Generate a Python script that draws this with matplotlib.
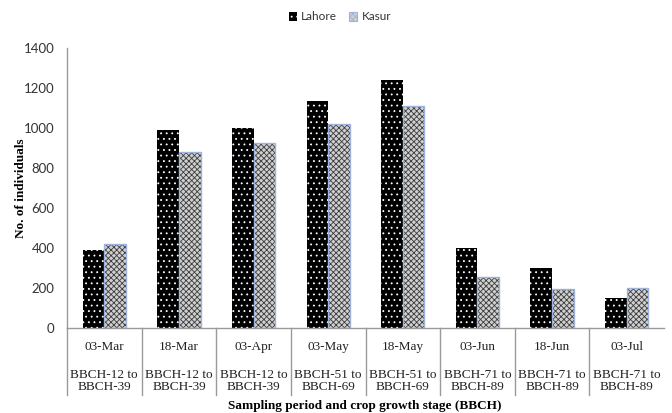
#!/usr/bin/env python3
"""Grouped bars: insect counts per sampling date at Lahore and Kasur."""

import matplotlib
matplotlib.use("Agg")
import matplotlib.pyplot as plt
import numpy as np
from matplotlib.patches import Patch
from matplotlib.transforms import blended_transform_factory

dates = ["03-Mar", "18-Mar", "03-Apr", "03-May", "18-May", "03-Jun", "18-Jun", "03-Jul"]
stages = [
    "BBCH-12 to\nBBCH-39",
    "BBCH-12 to\nBBCH-39",
    "BBCH-12 to\nBBCH-39",
    "BBCH-51 to\nBBCH-69",
    "BBCH-51 to\nBBCH-69",
    "BBCH-71 to\nBBCH-89",
    "BBCH-71 to\nBBCH-89",
    "BBCH-71 to\nBBCH-89",
]
lahore = [390, 990, 1000, 1135, 1240, 400, 300, 150]
kasur = [420, 880, 925, 1020, 1110, 255, 195, 200]
y_ticks = [0, 200, 400, 600, 800, 1000, 1200, 1400]

SERIF = "Liberation Serif"
SANS = "Lato"
GRID_GREY = "#9a9a9a"
KASUR_EDGE = "#9db3dd"

plt.rcParams["hatch.linewidth"] = 0.6

fig = plt.figure(figsize=(6.72, 4.13), dpi=100)
ax = fig.add_axes([67 / 672, 85 / 413, 597 / 672, 280 / 413])

x = np.arange(len(dates))
w = 0.29

# Lahore: black bars with small white dots
ax.bar(x - w / 2, lahore, width=w, facecolor="black", edgecolor="white",
       hatch="...", linewidth=0, zorder=2)
# Kasur: grey checker pattern with a pale blue outline
ax.bar(x + w / 2, kasur, width=w, facecolor="#d0d0d0", edgecolor="#3c3c3c",
       hatch="xxxxxx", linewidth=0, zorder=2)
ax.bar(x + w / 2, kasur, width=w, fill=False, edgecolor=KASUR_EDGE,
       linewidth=1.0, zorder=3)

ax.set_xlim(-0.5, len(dates) - 0.5)
ax.set_ylim(0, 1400)
ax.set_yticks(y_ticks)
ax.set_yticklabels([str(v) for v in y_ticks], family=SANS, fontsize=9.5, color="#333333")
ax.tick_params(axis="y", length=0, pad=9)
ax.set_xticks([])

for side in ("top", "right"):
    ax.spines[side].set_visible(False)
for side in ("left", "bottom"):
    ax.spines[side].set_color(GRID_GREY)
    ax.spines[side].set_linewidth(1.0)
ax.spines["left"].set_bounds(0, 1400)

# Table-style category axis below the bars
trans = blended_transform_factory(ax.transData, ax.transAxes)
for k in range(len(dates)):
    ax.plot([k - 0.5, k - 0.5], [0, -0.24], transform=trans, color=GRID_GREY,
            linewidth=1.0, clip_on=False, zorder=1)
for xi, d, s in zip(x, dates, stages):
    ax.text(xi, -0.068, d, transform=trans, ha="center", va="center",
            family=SERIF, fontsize=9.5, color="#222222")
    ax.text(xi, -0.19, s, transform=trans, ha="center", va="center",
            family=SERIF, fontsize=9.5, color="#222222", linespacing=1.05)

fig.text(21 / 672, 1 - 188 / 413, "No. of individuals", rotation=90,
         ha="center", va="center", family=SERIF, fontweight="bold", fontsize=9.5)
fig.text(365 / 672, 1 - 406 / 413, "Sampling period and crop growth stage (BBCH)",
         ha="center", va="center", family=SERIF, fontweight="bold", fontsize=9.5)

handles = [
    Patch(facecolor="black", edgecolor="white", hatch="...", linewidth=0, label="Lahore"),
    Patch(facecolor="#d0d0d0", edgecolor=KASUR_EDGE, hatch="xxxxxx", linewidth=0.8, label="Kasur"),
]
leg = fig.legend(handles=handles, loc="center", bbox_to_anchor=(340 / 672, 1 - 17 / 413),
                 ncol=2, frameon=False, handlelength=0.7, handleheight=0.7,
                 handletextpad=0.35, columnspacing=1.0, prop={"family": SANS, "size": 8.5})
for t in leg.get_texts():
    t.set_color("#333333")

fig.savefig("out.png", dpi=100, facecolor="white")
